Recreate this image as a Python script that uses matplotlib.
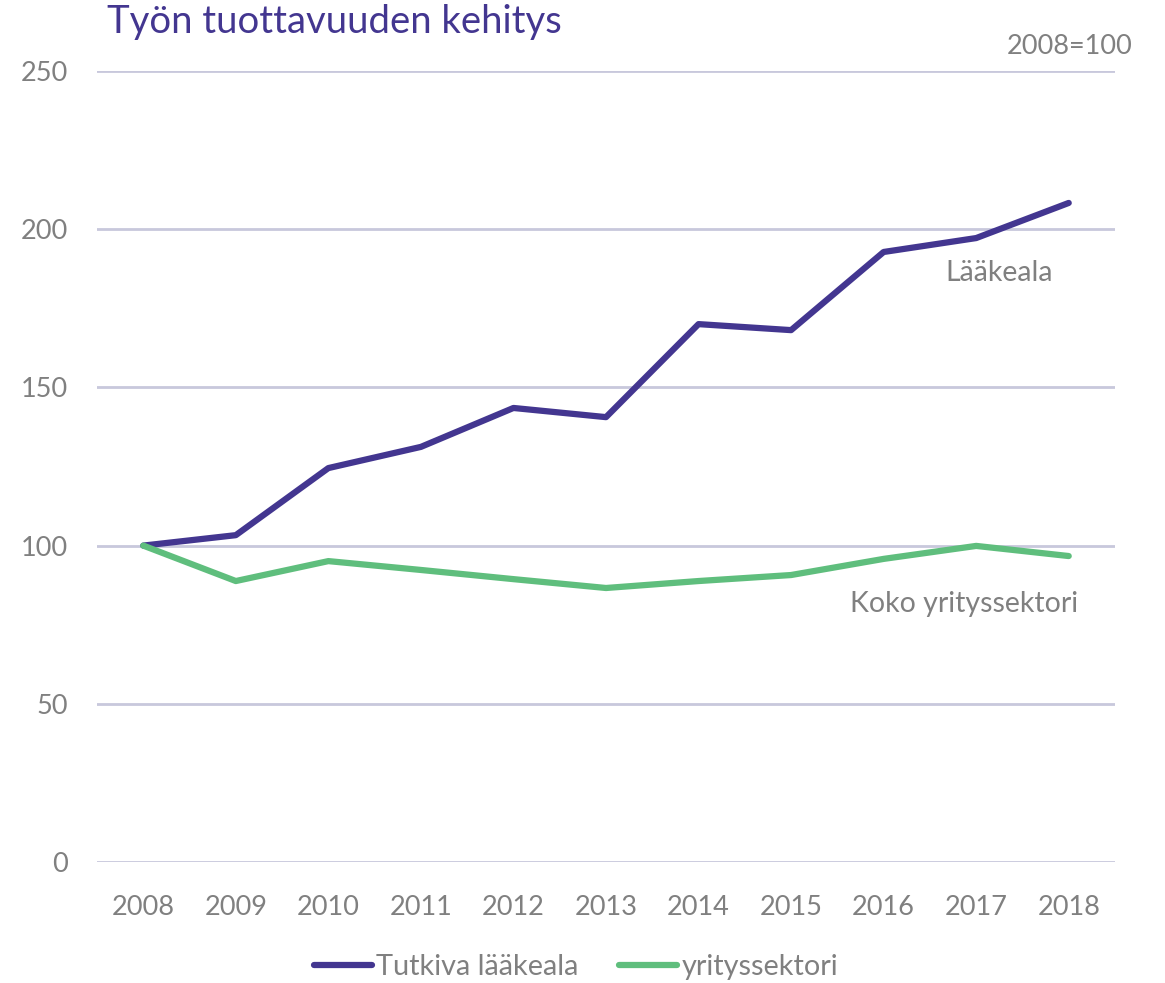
import matplotlib
matplotlib.use("Agg")
import matplotlib.pyplot as plt

years = ["2008", "2009", "2010", "2011", "2012", "2013", "2014", "2015", "2016", "2017", "2018"]
laakeala = [100, 103.3, 124.5, 131.2, 143.5, 140.6, 170.0, 168.1, 192.8, 197.2, 208.3]
yrityssektori = [100, 88.8, 95.1, 92.3, 89.4, 86.6, 88.8, 90.7, 95.8, 99.9, 96.7]
yticks = [0, 50, 100, 150, 200, 250]

plt.rcParams['font.family'] = ['Lato', 'DejaVu Sans']

purple = "#433690"
green = "#5fbe7d"
grey = "#808080"
gridc = "#c8c8dc"

fig = plt.figure(figsize=(11.65, 9.83), dpi=100)
ax = fig.add_axes([97/1165, 121/983, (1115-97)/1165, (862-71)/983])

x = list(range(len(years)))
ax.plot(x, laakeala, color=purple, lw=4.5, solid_capstyle='round', label="Tutkiva lääkeala", zorder=3)
ax.plot(x, yrityssektori, color=green, lw=4.5, solid_capstyle='round', label="yrityssektori", zorder=3)

ax.set_xlim(-0.5, len(years) - 0.5)
ax.set_ylim(0, 250)
ax.set_yticks(yticks)
ax.set_xticks(x)
ax.set_xticklabels(years)
for s in ax.spines.values():
    s.set_visible(False)
ax.grid(axis='y', color=gridc, lw=2)
ax.set_axisbelow(True)
ax.tick_params(axis='both', length=0, labelsize=19.5, labelcolor=grey)
ax.tick_params(axis='y', pad=21)
ax.tick_params(axis='x', pad=24)

fig.text(107/1165, 1 - 22/983, "Työn tuottavuuden kehitys", color=purple, fontsize=27.5, ha='left', va='center')
fig.text(1133/1165, 1 - 46/983, "2008=100", color=grey, fontsize=19.5, ha='right', va='center')
ax.text(9.25, 186, "Lääkeala", color=grey, fontsize=20.5, ha='center', va='center')
ax.text(8.87, 81.5, "Koko yrityssektori", color=grey, fontsize=20.5, ha='center', va='center')

leg = fig.legend(loc='center', bbox_to_anchor=(576/1165, 1 - 967/983), ncol=2, frameon=False,
                 fontsize=20.8, handlelength=2.0, handletextpad=0.15, columnspacing=1.4)
for t in leg.get_texts():
    t.set_color(grey)

fig.savefig("out.png", dpi=100)
